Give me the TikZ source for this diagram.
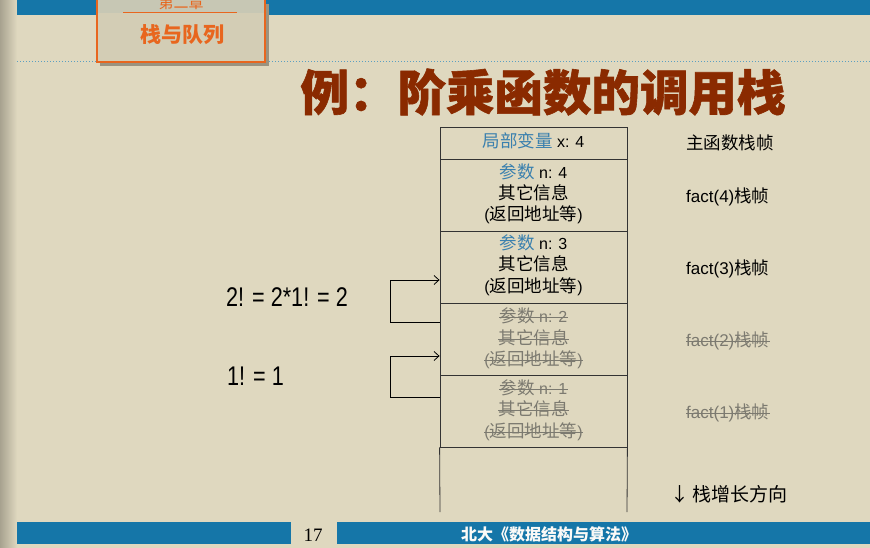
\documentclass[tikz,border=0pt]{standalone}
\usepackage{fontspec}
\setmainfont{Liberation Sans}
\newfontfamily\cjk{Noto Sans CJK SC}
\newfontfamily\cjkheavy[BoldFeatures={FakeBold=1.2}]{Noto Sans CJK SC}
\newfontfamily\narrowfont[FakeStretch=0.8]{Liberation Sans}
\newfontfamily\numfont{Liberation Serif}
\usetikzlibrary{arrows.meta,calc}
\definecolor{bgc}{HTML}{DFD8BF}
\definecolor{barblue}{HTML}{1576A8}
\definecolor{lblue}{HTML}{3A80AE}
\definecolor{sgray}{HTML}{7C7A70}
\definecolor{titlec}{HTML}{8A2A00}
\definecolor{orangec}{HTML}{E8661E}
\definecolor{boxfill}{HTML}{D3CDB5}
\definecolor{boxtop}{HTML}{C7C7B4}
\definecolor{shadowc}{HTML}{9A9380}
\tikzset{
  frame/.style={draw=black!80, line width=0.8pt, minimum width=187pt, inner sep=0pt},
  ln/.style={font=\fontsize{16}{16}\selectfont, inner sep=0pt, text height=12pt, text depth=3pt},
  cn/.style={font=\cjk\fontsize{17.5}{17.5}\selectfont},
  struck/.style={ln, text=sgray},
  lab/.style={font=\fontsize{17}{17}\selectfont, inner sep=0pt, anchor=west, text height=12pt, text depth=3pt},
  eq/.style={font=\narrowfont\fontsize{27}{27}\selectfont, inner sep=0pt, anchor=west},
  conn/.style={draw=black, line width=0.8pt, -{Straight Barb[length=5pt,width=9pt]}},
  strike/.style={draw=sgray, line width=0.9pt}
}
\newcommand{\cz}[1]{{\cjk\fontsize{17.5}{17.5}\selectfont #1}}
\begin{document}
\begin{tikzpicture}[x=1pt,y=-1pt]
\useasboundingbox (0,0) rectangle (870,548);
% background
\fill[bgc] (0,0) rectangle (870,548);
\shade[left color=black!25!bgc, right color=bgc] (0,0) rectangle (17,548);
% top bar
\fill[barblue] (17,0) rectangle (870,15);
\draw[barblue!70, line width=1pt, dotted] (17,62) -- (870,62);
% chapter box
\fill[shadowc] (100,4) rectangle (269,66);
\begin{scope}
\clip (0,0) rectangle (870,548);
\fill[boxfill] (97,-2) rectangle (265,62);
\fill[boxtop] (97,-2) rectangle (265,13);
\draw[orangec, line width=1.4pt] (97,-2) rectangle (265,62);
\node[text=orangec, font=\cjk\fontsize{15}{15}\selectfont, inner sep=0pt] (chap) at (181,3) {第二章};
\end{scope}
\draw[orangec, line width=1pt] (123,13) -- (237,13);
\node[text=orangec, font=\cjk\bfseries\fontsize{21}{21}\selectfont, inner sep=0pt] (sec) at (182,35) {栈与队列};
% title
\node[text=titlec, font=\cjkheavy\bfseries\fontsize{48.5}{48.5}\selectfont, inner sep=0pt] (title) at (543,92) {例：阶乘函数的调用栈};
% stack frames
\node[frame, minimum height=32pt] (f0) at (533.5,143) {};
\node[frame, minimum height=72pt] (f1) at (533.5,195) {};
\node[frame, minimum height=72pt] (f2) at (533.5,267) {};
\node[frame, minimum height=72pt] (f3) at (533.5,339) {};
\node[frame, minimum height=72pt] (f4) at (533.5,411) {};
\coordinate (bl) at (440,512);
\coordinate (br) at (627,512);
\draw[black!80, line width=0.8pt] (f4.south west) -- (bl);
\draw[black!80, line width=0.8pt] (f4.south east) -- (br);
% frame texts
\node[ln] (t0) at (533.5,143) {\textcolor{lblue}{\cz{局部变量}} x: 4};
\node[ln] (p1) at (533.5,174) {\textcolor{lblue}{\cz{参数}} n: 4};
\node[ln, cn] (o1) at (533.5,195) {其它信息};
\node[ln] (r1) at (533.5,216) {(\cz{返回地址等})};
\node[ln] (p2) at (533.5,245) {\textcolor{lblue}{\cz{参数}} n: 3};
\node[ln, cn] (o2) at (533.5,266) {其它信息};
\node[ln] (r2) at (533.5,288) {(\cz{返回地址等})};
\node[struck] (p3) at (533.5,318) {\cz{参数} n: 2};
\node[struck, cn] (o3) at (533.5,340) {其它信息};
\node[struck] (r3) at (533.5,361) {(\cz{返回地址等})};
\node[struck] (p4) at (533.5,390) {\cz{参数} n: 1};
\node[struck, cn] (o4) at (533.5,411) {其它信息};
\node[struck] (r4) at (533.5,433) {(\cz{返回地址等})};
\foreach \n in {p3,o3,r3,p4,o4,r4}{
  \draw[strike] ($(\n.base west)+(0,-5.5)$) -- ($(\n.base east)+(0,-5.5)$);
}
% right labels
\node[lab, font=\cjk\fontsize{17.5}{17.5}\selectfont] (l0) at (686,145) {主函数栈帧};
\node[lab] (l1) at (686,198) {fact(4)\cz{栈帧}};
\node[lab] (l2) at (686,270) {fact(3)\cz{栈帧}};
\node[lab, text=sgray] (l3) at (686,342) {fact(2)\cz{栈帧}};
\node[lab, text=sgray] (l4) at (686,414) {fact(1)\cz{栈帧}};
\foreach \n in {l3,l4}{
  \draw[strike] ($(\n.base west)+(0,-5.5)$) -- ($(\n.base east)+(0,-5.5)$);
}
\node[lab, font=\cjk\fontsize{19}{19}\selectfont] (grow) at (670,497) {↓\,栈增长方向};
% left equations
\node[eq] (e1) at (226,297) {2! = 2*1! = 2};
\node[eq] (e2) at (227,376) {1! = 1};
% return arrows
\coordinate (a1s) at (f3.west |- 0,322);
\coordinate (a1e) at (f2.west |- 0,280);
\coordinate (a2s) at (f4.west |- 0,397);
\coordinate (a2e) at (f3.west |- 0,356);
\draw[conn] (a1s) -- ++(-49,0) |- (a1e);
\draw[conn] (a2s) -- ++(-49,0) |- (a2e);
% bottom bar
\fill[barblue] (17,522) rectangle (291,544);
\fill[barblue] (337,522) rectangle (870,544);
\node[font=\numfont\fontsize{19}{19}\selectfont, inner sep=0pt] (page) at (313,535) {17};
\node[text=white!88!bgc, font=\cjk\bfseries\fontsize{16}{16}\selectfont, inner sep=0pt] (course) at (549,534) {北大《数据结构与算法》};
\end{tikzpicture}
\end{document}
